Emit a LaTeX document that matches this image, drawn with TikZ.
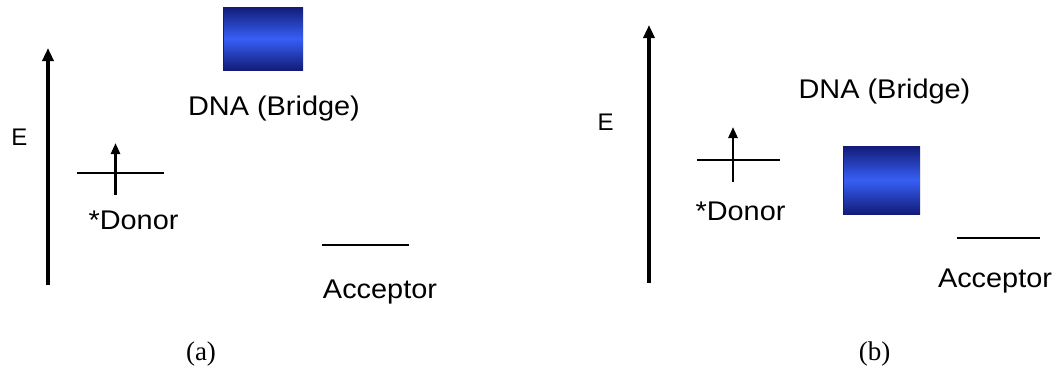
\documentclass[tikz,border=0pt]{standalone}
\usepackage{fontspec}
\setmainfont{Liberation Sans}
\newfontfamily\capfont{Liberation Serif}
\usetikzlibrary{arrows.meta}
\definecolor{navy}{RGB}{18,28,120}
\definecolor{brightblue}{RGB}{55,95,245}
\tikzset{
  lbl/.style={inner sep=0pt, anchor=base, font=\fontsize{27}{30}\selectfont},
  elbl/.style={inner sep=0pt, anchor=base, font=\fontsize{24}{28}\selectfont},
  caplbl/.style={inner sep=0pt, anchor=base, font=\capfont\fontsize{27}{30}\selectfont},
  axis/.style={line width=3.6pt, -{Triangle[length=13pt,width=11pt]}},
  spin/.style={line width=2.6pt, -{Triangle[length=11pt,width=9pt]}},
  level/.style={line width=1.3pt},
  bridge/.style={draw=navy, line width=1pt, top color=navy, bottom color=navy, middle color=brightblue, shading angle=0},
}
\newcommand{\wide}[1]{\scalebox{1.07}[1]{#1}}
\begin{document}
\begin{tikzpicture}[x=1pt,y=-1pt]
\useasboundingbox (0,0) rectangle (1055,368);
% ---------- panel (a) ----------
\coordinate (aE0) at (48,285);
\coordinate (aE1) at (48,48);
\draw[axis] (aE0) -- (aE1);
\node[elbl] (aE) at (19.5,145) {E};
\coordinate (aD0) at (77,173);
\coordinate (aD1) at (164,173);
\draw[level] (aD0) -- (aD1);
\coordinate (aS0) at (115.5,195);
\coordinate (aS1) at (115.5,143);
\draw[spin] (aS0) -- (aS1);
\node[lbl] (aDon) at (133.5,229) {\wide{*Donor}};
\node[bridge, minimum width=80pt, minimum height=63pt, inner sep=0pt] (aB) at (263,38.5) {};
\draw[white!80!gray, line width=1.2pt] (aB.north east) -- (aB.south east);
\node[lbl] (aDNA) at (274,115) {\wide{DNA (Bridge)}};
\coordinate (aA0) at (322,245);
\coordinate (aA1) at (409,245);
\draw[level] (aA0) -- (aA1);
\node[lbl] (aAcc) at (380,298) {\wide{Acceptor}};
\node[caplbl] (acap) at (201,360) {(a)};
% ---------- panel (b) ----------
\coordinate (bE0) at (649,283);
\coordinate (bE1) at (649,25);
\draw[axis] (bE0) -- (bE1);
\node[elbl] (bE) at (605.5,130) {E};
\coordinate (bD0) at (697,160);
\coordinate (bD1) at (780,160);
\draw[level] (bD0) -- (bD1);
\coordinate (bS0) at (733,182);
\coordinate (bS1) at (733,127);
\draw[spin] (bS0) -- (bS1);
\node[lbl] (bDon) at (740.5,220) {\wide{*Donor}};
\node[bridge, minimum width=77pt, minimum height=68pt, inner sep=0pt] (bB) at (881.5,180) {};
\draw[white!80!gray, line width=1.2pt] (bB.north east) -- (bB.south east);
\node[lbl] (bDNA) at (884.5,98) {\wide{DNA (Bridge)}};
\coordinate (bA0) at (957,238);
\coordinate (bA1) at (1040,238);
\draw[level, line width=2.4pt] (bA0) -- (bA1);
\node[lbl] (bAcc) at (995,287) {\wide{Acceptor}};
\node[caplbl] (bcap) at (874.5,360) {(b)};
\end{tikzpicture}
\end{document}
